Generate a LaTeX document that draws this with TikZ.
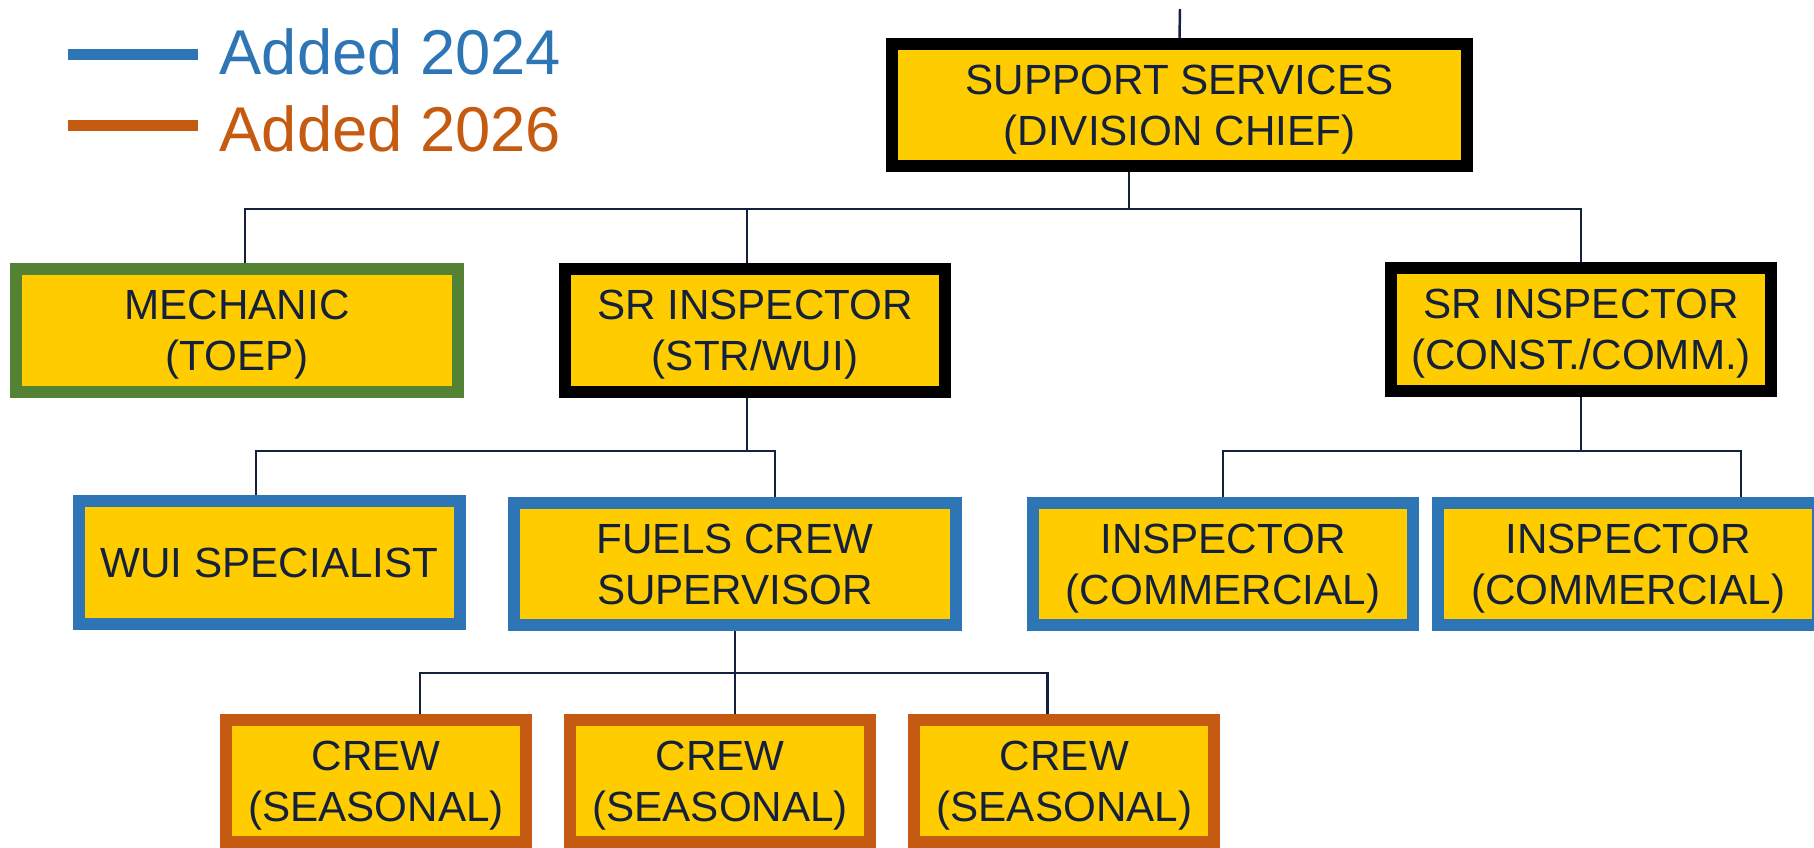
\documentclass[tikz,border=0pt]{standalone}
\usepackage{fontspec}
\setmainfont{Liberation Sans}
\usetikzlibrary{backgrounds,calc}
\definecolor{boxfill}{HTML}{FFCC00}
\definecolor{navy}{HTML}{14213D}
\definecolor{new24}{HTML}{2E75B6}
\definecolor{new26}{HTML}{C55A11}
\definecolor{mechgreen}{HTML}{548235}
\begin{document}
\begin{tikzpicture}[x=0.01cm,y=-0.01cm,
    box/.style={rectangle,fill=boxfill,draw=black,line width=0.12cm,inner sep=0pt,align=center,text=navy,font=\fontsize{12}{14.6}\selectfont,text depth=0pt,minimum height=1.22cm},
    wide/.style={box,minimum width=4.42cm},
    narrow/.style={box,minimum width=3.80cm},
    crew/.style={box,draw=new26,minimum width=3.00cm,node distance=3.44cm},
    conn/.style={draw=navy,line width=0.7pt},
    legend/.style={anchor=west,inner sep=0pt,font=\fontsize{18}{20}\selectfont}]
    \useasboundingbox (0,0) rectangle (1814,848);
    % legend
    \draw[new24,line width=0.11cm] (68,54) -- (198,54);
    \draw[new26,line width=0.11cm] (68,125) -- (198,125);
    \node[legend,text=new24] (l24) at (219,52) {Added 2024};
    \node[legend,text=new26] (l26) at (219,129) {Added 2026};
    % boxes
    \node[box,minimum width=5.75cm] (ss) at (1179.5,105) {SUPPORT SERVICES\\(DIVISION CHIEF)};
    \node[wide,draw=mechgreen] (mech) at (237,330.5) {MECHANIC\\(TOEP)};
    \node[narrow] (sr1) at (755,330.5) {SR INSPECTOR\\(STR/WUI)};
    \node[narrow] (sr2) at (1581,329.5) {SR INSPECTOR\\(CONST./COMM.)};
    \node[narrow,draw=new24] (wui) at (269.5,562.5) {WUI SPECIALIST};
    \node[wide,draw=new24] (fcs) at (735,564) {FUELS CREW\\SUPERVISOR};
    \node[narrow,draw=new24] (ins1) at (1223,564) {INSPECTOR\\(COMMERCIAL)};
    \node[narrow,draw=new24,right of=ins1,node distance=4.05cm] (ins2) {INSPECTOR\\(COMMERCIAL)};
    \node[crew] (c1) at (376,781) {CREW\\(SEASONAL)};
    \node[crew,right of=c1] (c2) {CREW\\(SEASONAL)};
    \node[crew,right of=c2] (c3) {CREW\\(SEASONAL)};
    % lines
    \coordinate (feed) at (1180,9);
    \coordinate (j1) at (1129,209);
    \coordinate (j2) at (747,451);
    \coordinate (j3) at (1581,451);
    \coordinate (j4) at (735,673);
    \begin{scope}[on background layer]
        \draw[conn] (feed) -- (ss.north);
        \draw[conn] ($(ss.south)+(-50.5,0)$) -- (j1);
        \draw[conn] ($(mech.north)+(8,0)$) |- (j1);
        \draw[conn] ($(sr1.north)+(-8,0)$) |- (j1);
        \draw[conn] (sr2.north) |- (j1);
        \draw[conn] ($(sr1.south)+(-8,0)$) -- (j2);
        \draw[conn] ($(wui.north)+(-13.5,0)$) |- (j2);
        \draw[conn] ($(fcs.north)+(40,0)$) |- (j2);
        \draw[conn] (sr2.south) -- (j3);
        \draw[conn] (ins1.north) |- (j3);
        \draw[conn] ($(ins2.north)+(113,0)$) |- (j3);
        \draw[conn] (fcs.south) -- (j4);
        \draw[conn] ($(c1.north)+(44,0)$) |- (j4);
        \draw[conn] ($(c2.north)+(15,0)$) |- (j4);
        \draw[conn] ($(c3.north)+(-17,0)$) |- (j4);
    \end{scope}
\end{tikzpicture}
\end{document}
